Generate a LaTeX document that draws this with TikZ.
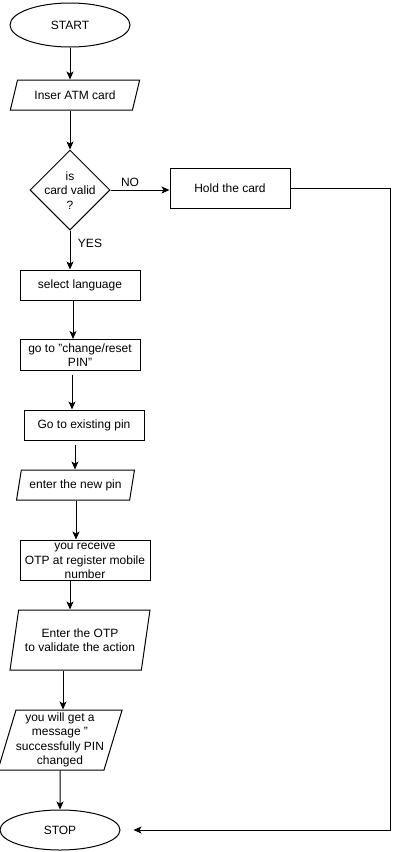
\documentclass[tikz,border=0pt]{standalone}
\usepackage{fontspec}
\setmainfont{Liberation Sans}
\usetikzlibrary{shapes.geometric,arrows.meta,calc}
\begin{document}
\begin{tikzpicture}[x=1pt,y=-1pt,
  every node/.style={font=\fontsize{12pt}{14.4pt}\selectfont, inner sep=0pt, align=center},
  box/.style={draw, line width=1pt, rectangle},
  term/.style={draw, line width=1pt, ellipse},
  dec/.style={draw, line width=1pt, diamond, aspect=1, minimum size=80pt},
  para/.style={draw, line width=1pt, trapezium, trapezium stretches=true},
  arr/.style={line width=1pt, -{Stealth[length=8pt,width=7pt,inset=2pt]}},
  lbl/.style={}
]
\useasboundingbox (0,0) rectangle (400,852);
\node[term, minimum width=120pt, minimum height=44pt] (start) at (70,25) {START};
\node[para, trapezium left angle=60, trapezium right angle=120, minimum width=130pt, minimum height=30pt] (inser) at (75,95) {Inser ATM card};
\node[dec] (valid) at (70,190) {};
\node (validtxt) at (70,190.5) {is\\card valid\\?};
\node[box, minimum width=120pt, minimum height=40pt] (hold) at (230,188) {Hold the card};
\node[box, minimum width=120pt, minimum height=30pt] (sel) at (80,285) {select language};
\node[box, minimum width=120pt, minimum height=31pt] (chg) at (80,355) {go to "change/reset\\PIN"};
\node[box, minimum width=120pt, minimum height=30pt] (exist) at (84,425) {Go to existing pin};
\node[para, trapezium left angle=70, trapezium right angle=110, minimum width=119pt, minimum height=30pt] (newpin) at (75.5,485) {enter the new pin};
\node[box, minimum width=130pt, minimum height=40pt] (otp) at (85,560) {you receive\\OTP at register mobile\\number};
\node[para, trapezium left angle=71.6, trapezium right angle=108.4, minimum width=140pt, minimum height=60pt] (enterotp) at (80,640) {Enter the OTP\\to validate the action};
\node[para, trapezium left angle=71.6, trapezium right angle=108.4, minimum width=120pt, minimum height=60pt] (msg) at (60,740) {you will get a\\message "\\successfully PIN\\changed};
\node[term, minimum width=120pt, minimum height=40pt] (stop) at (60,830) {STOP};
\coordinate (corner) at (390,188);

\draw[arr] (start.south) -- (start.south |- inser.north);
\draw[arr] (valid.north |- inser.south) -- (valid.north);
\draw[arr] (valid.east) -- (hold.west |- valid.east);
\draw[arr] (valid.south) -- (valid.south |- sel.north);
\draw[arr] ([xshift=-7pt]sel.south) -- ([xshift=-7pt]chg.north);
\draw[arr] ([xshift=-8pt,yshift=-4pt]chg.south) -- ([xshift=-8pt]chg.south |- exist.north);
\draw[arr] ([xshift=-9pt,yshift=-4pt]exist.south) -- ([xshift=-9pt]exist.south |- newpin.north);
\draw[arr] ([xshift=-9pt]otp.north |- newpin.south) -- ([xshift=-9pt]otp.north);
\draw[arr] ([xshift=-15pt]otp.south) -- ([xshift=-15pt]otp.south |- enterotp.north);
\draw[arr] ([xshift=3pt]msg.north |- enterotp.south) -- ([xshift=3pt]msg.north);
\draw[arr] (msg.south) -- (stop.north);
\draw[arr] (hold.east) -- (corner) |- ([xshift=13pt]stop.east);

\node[lbl] (no) at (130,182) {NO};
\node[lbl] (yes) at (90,243) {YES};
\end{tikzpicture}
\end{document}
